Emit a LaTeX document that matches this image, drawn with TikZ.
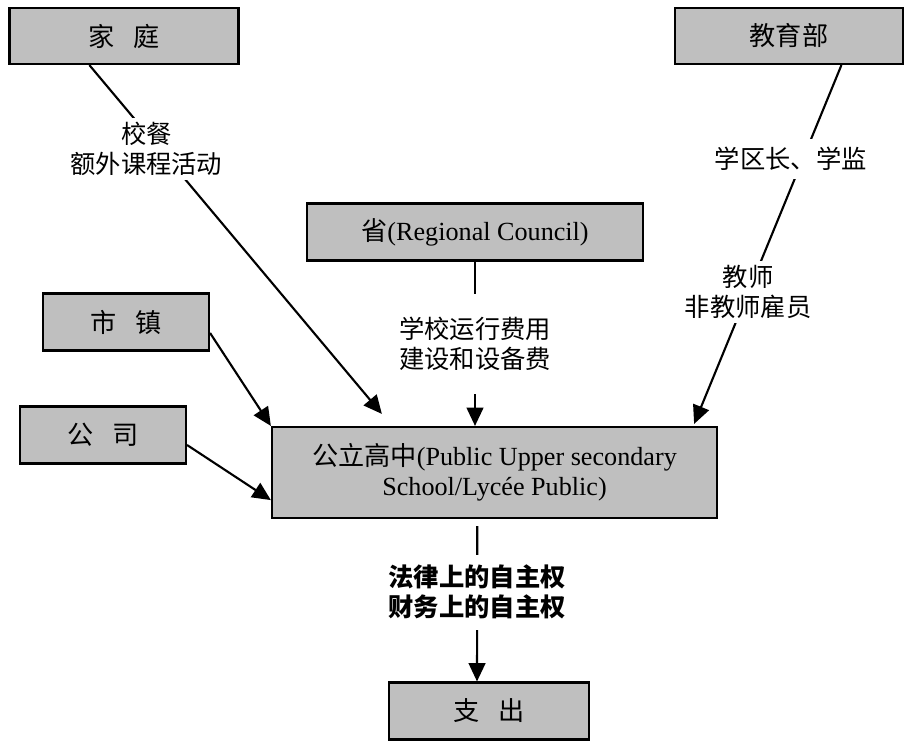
\documentclass[tikz,border=0pt]{standalone}
\usepackage{fontspec}
\setmainfont{Liberation Serif}
\newfontfamily\cjk{Noto Sans CJK SC}
\usetikzlibrary{arrows.meta}
\usetikzlibrary{calc}
\tikzset{box/.style={draw=black,line width=1.5pt,fill=black!25,inner sep=0pt,minimum height=1.4cm,font=\fontsize{18.6}{21.5}\selectfont}}
\tikzset{lbl/.style={fill=white,align=center,inner xsep=2pt,inner ysep=2pt,font=\cjk\fontsize{18}{21.5}\selectfont}}
\tikzset{lnk/.style={line width=1.5pt}}
\tikzset{arr/.style={lnk,-{Triangle[length=0.46cm,width=0.42cm]}}}

\begin{document}
\begin{tikzpicture}[x=0.025cm,y=-0.025cm]
      \useasboundingbox (0,0) rectangle (905,741);

      % boxes
      \node[box,minimum width=5.725cm] (jiating) at (124,36) {\cjk 家\hspace{0.7em}庭};
      \node[box,minimum width=5.7cm] (jiaoyubu) at (789,36) {\cjk 教育部};
      \node[box,minimum width=8.4cm,minimum height=1.425cm] (sheng) at (475,232) {{\cjk 省}(Regional Council)};
      \node[box,minimum width=4.15cm,minimum height=1.425cm] (shizhen) at (126,322) {\cjk 市\hspace{0.7em}镇};
      \node[box,minimum width=4.15cm,minimum height=1.425cm] (gongsi) at (103,435) {\cjk 公\hspace{0.7em}司};
      \node[box,minimum width=11.125cm,minimum height=2.275cm,align=center] (gaozhong) at (494.5,472.5) {{\cjk 公立高中}(Public Upper secondary\\School/Lycée Public)};
      \node[box,minimum width=5cm,minimum height=1.425cm] (zhichu) at (489,711) {\cjk 支\hspace{0.7em}出};

      % flows into the school
      \draw[arr] (jiating.-140) -- node[lbl,pos=0.24,xshift=-0.33cm,inner ysep=3pt] (canyin) {校餐\\额外课程活动} ($(gaozhong.north west)+(111,-12)$);
      \draw[arr] (jiaoyubu.-29) -- node[lbl,pos=0.262,xshift=-0.3cm,inner ysep=6pt] (xuequ) {学区长、学监} node[lbl,pos=0.633,inner ysep=3pt] (jiaoshi) {教师\\非教师雇员} ($(gaozhong.north east)+(-24,-2)$);
      \draw[arr] (sheng) -- node[lbl,midway,minimum height=2.5cm] (yunxing) {学校运行费用\\建设和设备费} (sheng |- gaozhong.north);
      \draw[arr] ([yshift=-0.275cm]shizhen.east) -- (gaozhong.north west);
      \draw[arr] ([yshift=-0.25cm]gongsi.east) -- ([yshift=-0.69cm]gaozhong.west);

      % out of the school
      \draw[arr,shorten <=0.175cm] ([xshift=-0.43cm]gaozhong.south) -- node[lbl,pos=0.45,minimum height=1.875cm] (zizhu) {\bfseries 法律上的自主权\\\bfseries 财务上的自主权} ([xshift=-0.3cm]zhichu.north);
\end{tikzpicture}
\end{document}
